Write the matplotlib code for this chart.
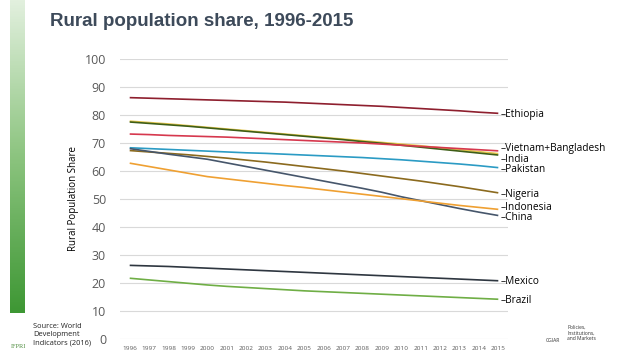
import numpy as np
import matplotlib; matplotlib.use("Agg")
import matplotlib.pyplot as plt
from matplotlib.colors import LinearSegmentedColormap

plt.rcParams['font.family'] = ['Open Sans', 'DejaVu Sans']

YEARS = [str(y) for y in range(1996, 2016)]
COUNTRIES = ["Ethiopia", "Vietnam", "Bangladesh", "India", "Pakistan", "Nigeria",
             "China", "Indonesia", "Mexico", "Brazil"]
ethiopia   = [86.2, 86.0, 85.8, 85.6, 85.4, 85.2, 85.0, 84.8, 84.6, 84.3, 84.0, 83.7, 83.4, 83.1, 82.7, 82.3, 81.9, 81.5, 81.0, 80.6]
vietnam    = [77.8, 77.3, 76.8, 76.2, 75.6, 75.0, 74.4, 73.8, 73.2, 72.6, 72.0, 71.4, 70.8, 70.2, 69.6, 69.0, 68.3, 67.6, 66.9, 66.2]
bangladesh = [77.5, 77.0, 76.5, 76.0, 75.4, 74.8, 74.2, 73.6, 73.0, 72.4, 71.8, 71.2, 70.5, 69.9, 69.2, 68.5, 67.8, 67.1, 66.4, 65.7]
india      = [73.2, 73.0, 72.7, 72.5, 72.3, 72.1, 71.8, 71.5, 71.2, 70.9, 70.6, 70.3, 70.0, 69.6, 69.2, 68.8, 68.4, 68.0, 67.6, 67.2]
pakistan   = [68.3, 68.0, 67.7, 67.4, 67.1, 66.8, 66.5, 66.3, 66.0, 65.7, 65.4, 65.1, 64.8, 64.4, 64.0, 63.5, 63.0, 62.5, 61.9, 61.2]
nigeria    = [67.3, 66.8, 66.3, 65.8, 65.2, 64.6, 63.9, 63.2, 62.4, 61.6, 60.8, 60.0, 59.1, 58.2, 57.3, 56.4, 55.4, 54.4, 53.3, 52.2]
china      = [68.0, 67.0, 66.0, 65.1, 64.2, 62.9, 61.6, 60.3, 59.0, 57.7, 56.4, 55.1, 53.8, 52.4, 50.8, 49.4, 48.0, 46.6, 45.3, 44.1]
indonesia  = [62.8, 61.6, 60.4, 59.2, 58.0, 57.2, 56.4, 55.6, 54.8, 54.1, 53.3, 52.5, 51.7, 50.9, 50.1, 49.3, 48.5, 47.7, 47.0, 46.3]
mexico     = [26.3, 26.1, 25.9, 25.6, 25.3, 25.0, 24.7, 24.4, 24.1, 23.8, 23.5, 23.2, 22.9, 22.6, 22.3, 22.0, 21.7, 21.4, 21.1, 20.8]
brazil     = [21.7, 21.1, 20.5, 19.9, 19.3, 18.8, 18.4, 18.0, 17.6, 17.2, 16.9, 16.6, 16.3, 16.0, 15.7, 15.4, 15.1, 14.8, 14.5, 14.2]
SERIES = [ethiopia, vietnam, bangladesh, india, pakistan, nigeria, china, indonesia, mexico, brazil]
COLORS = ["#8E1F2E", "#E6C64C", "#3E5E17", "#D6384E", "#2B9BC4", "#8B6A1E",
          "#46566B", "#EFA032", "#2E3640", "#6FAE45"]

# end labels (text, y position)
LABELS = ["Ethiopia", "Vietnam+Bangladesh", "India", "Pakistan", "Nigeria",
          "Indonesia", "China", "Mexico", "Brazil"]
LABEL_Y = [80.0, 68.2, 64.2, 60.4, 51.7, 47.1, 43.3, 20.5, 13.7]

fig = plt.figure(figsize=(6.38, 3.59), dpi=100)

# green gradient bar on the left
bar = fig.add_axes([10/638, 1-313/359, 15/638, 313/359])
cm = LinearSegmentedColormap.from_list("g", ["#E2F0DE", "#8CC47F", "#3E9734"])
bar.imshow(np.linspace(0, 1, 200).reshape(-1, 1), aspect="auto", cmap=cm)
bar.axis("off")

fig.text(50/638, 1-21/359, "Rural population share, 1996-2015", fontsize=13.5,
         fontweight="bold", color="#3D4A5A", va="center", family="Liberation Sans")

ax = fig.add_axes([120/638, 1-339/359, 388/638, 280/359])
x = np.arange(len(YEARS))
for s, c in zip(SERIES, COLORS):
    ax.plot(x, s, color=c, lw=1.2, solid_capstyle="butt")
for lab, ly in zip(LABELS, LABEL_Y):
    ax.text(19.1, ly, "\u2013" + lab, fontsize=7.3, va="center", ha="left", clip_on=False)
ax.set_xlim(-0.5, 19.5)
ax.set_ylim(0, 100)
ax.set_yticks(range(0, 101, 10))
ax.set_xticks(x)
ax.set_xticklabels(YEARS, fontsize=4.6, color="#595959")
ax.tick_params(axis="y", labelsize=9, colors="#595959", length=0, pad=10)
ax.tick_params(axis="x", length=0, pad=5)
ax.grid(axis="y", color="#D9D9D9", lw=0.8)
ax.set_axisbelow(True)
for sp in ax.spines.values():
    sp.set_visible(False)
ax.set_ylabel("Rural Population Share", fontsize=7, labelpad=4)

fig.text(33/638, 1-335/359, "Source: World\nDevelopment\nIndicators (2016)", fontsize=5.4,
         va="center", ha="left", color="#222222", linespacing=1.25)
fig.text(18/638, 1-347/359, "IFPRI", fontsize=4.5, color="#4B8B3B", ha="center", va="center",
         family="Liberation Serif")
fig.text(567/638, 1-333/359, "Policies,\nInstitutions,\nand Markets", fontsize=3.6,
         color="#333333", ha="left", va="center", linespacing=1.1)
fig.text(553/638, 1-341/359, "CGIAR", fontsize=3.6, color="#333333", ha="center", va="center")

fig.savefig("out.png", dpi=100)
